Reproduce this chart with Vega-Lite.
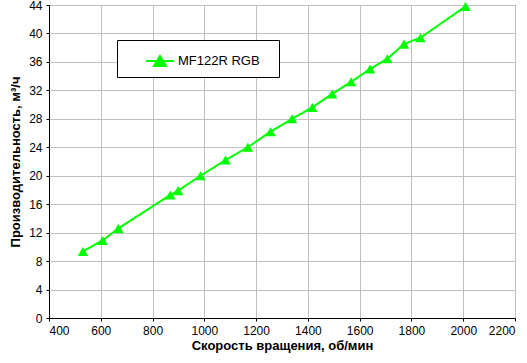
{
  "$schema": "https://vega.github.io/schema/vega-lite/v6.json",
  "autosize": {"type": "none"},
  "width": 466,
  "height": 313,
  "padding": {"left": 49, "top": 5, "right": 12, "bottom": 45},
  "background": "white",
  "config": {
    "font": "Liberation Sans",
    "view": {"stroke": "#808080", "strokeWidth": 1},
    "axis": {
      "labelFont": "Liberation Sans",
      "labelFontSize": 12,
      "labelColor": "black",
      "titleFont": "Liberation Sans",
      "titleFontSize": 13,
      "titleFontWeight": "bold",
      "titleColor": "black",
      "domainColor": "black",
      "domainWidth": 1,
      "tickColor": "black",
      "tickSize": 3,
      "gridColor": "#c0c0c0",
      "gridWidth": 1
    }
  },
  "data": {
    "values": [
      {"rpm": 531, "flow": 9.35, "series": "MF122R RGB"},
      {"rpm": 607, "flow": 10.9, "series": "MF122R RGB"},
      {"rpm": 668, "flow": 12.6, "series": "MF122R RGB"},
      {"rpm": 869, "flow": 17.3, "series": "MF122R RGB"},
      {"rpm": 899, "flow": 17.9, "series": "MF122R RGB"},
      {"rpm": 985, "flow": 20.0, "series": "MF122R RGB"},
      {"rpm": 1082, "flow": 22.2, "series": "MF122R RGB"},
      {"rpm": 1168, "flow": 24.0, "series": "MF122R RGB"},
      {"rpm": 1256, "flow": 26.2, "series": "MF122R RGB"},
      {"rpm": 1339, "flow": 28.0, "series": "MF122R RGB"},
      {"rpm": 1417, "flow": 29.6, "series": "MF122R RGB"},
      {"rpm": 1494, "flow": 31.5, "series": "MF122R RGB"},
      {"rpm": 1567, "flow": 33.2, "series": "MF122R RGB"},
      {"rpm": 1640, "flow": 35.0, "series": "MF122R RGB"},
      {"rpm": 1707, "flow": 36.45, "series": "MF122R RGB"},
      {"rpm": 1771, "flow": 38.5, "series": "MF122R RGB"},
      {"rpm": 1835, "flow": 39.4, "series": "MF122R RGB"},
      {"rpm": 2009, "flow": 43.8, "series": "MF122R RGB"}
    ]
  },
  "encoding": {
    "x": {
      "field": "rpm", "type": "quantitative",
      "scale": {"domain": [400, 2200], "nice": false, "zero": false},
      "axis": {"values": [400, 600, 800, 1000, 1200, 1400, 1600, 1800, 2000, 2200], "format": "d", "title": "Скорость вращения, об/мин", "titlePadding": 3, "labelPadding": 4}
    },
    "y": {
      "field": "flow", "type": "quantitative",
      "scale": {"domain": [0, 44], "nice": false},
      "axis": {"values": [0, 4, 8, 12, 16, 20, 24, 28, 32, 36, 40, 44], "title": "Производительность, м³/ч", "titlePadding": 6, "labelPadding": 4}
    },
    "color": {
      "field": "series", "type": "nominal",
      "scale": {"range": ["#00ff00"]},
      "legend": {
        "title": "\u00a0",
        "titleOrient": "right",
        "titlePadding": 13,
        "titleFontSize": 12,
        "orient": "none",
        "legendX": 68,
        "legendY": 35,
        "direction": "vertical",
        "padding": 6,
        "strokeColor": "black",
        "fillColor": "white",
        "labelFont": "Liberation Sans",
        "labelFontSize": 13,
        "labelColor": "black",
        "labelOffset": 3,
        "symbolOffset": 22,
        "symbolSize": 784,
        "symbolStrokeWidth": 2,
        "symbolType": "M-1,0H1M0,-0.36L0.43,0.36L-0.43,0.36Z",
        "encode": {"symbols": {"update": {"fill": {"value": "#00ff00"}, "stroke": {"value": "#00ff00"}}}}
      }
    }
  },
  "layer": [
    {"mark": {"type": "line", "strokeWidth": 2}},
    {"mark": {"type": "point", "shape": "triangle-up", "filled": true, "size": 110, "opacity": 1}}
  ]
}
